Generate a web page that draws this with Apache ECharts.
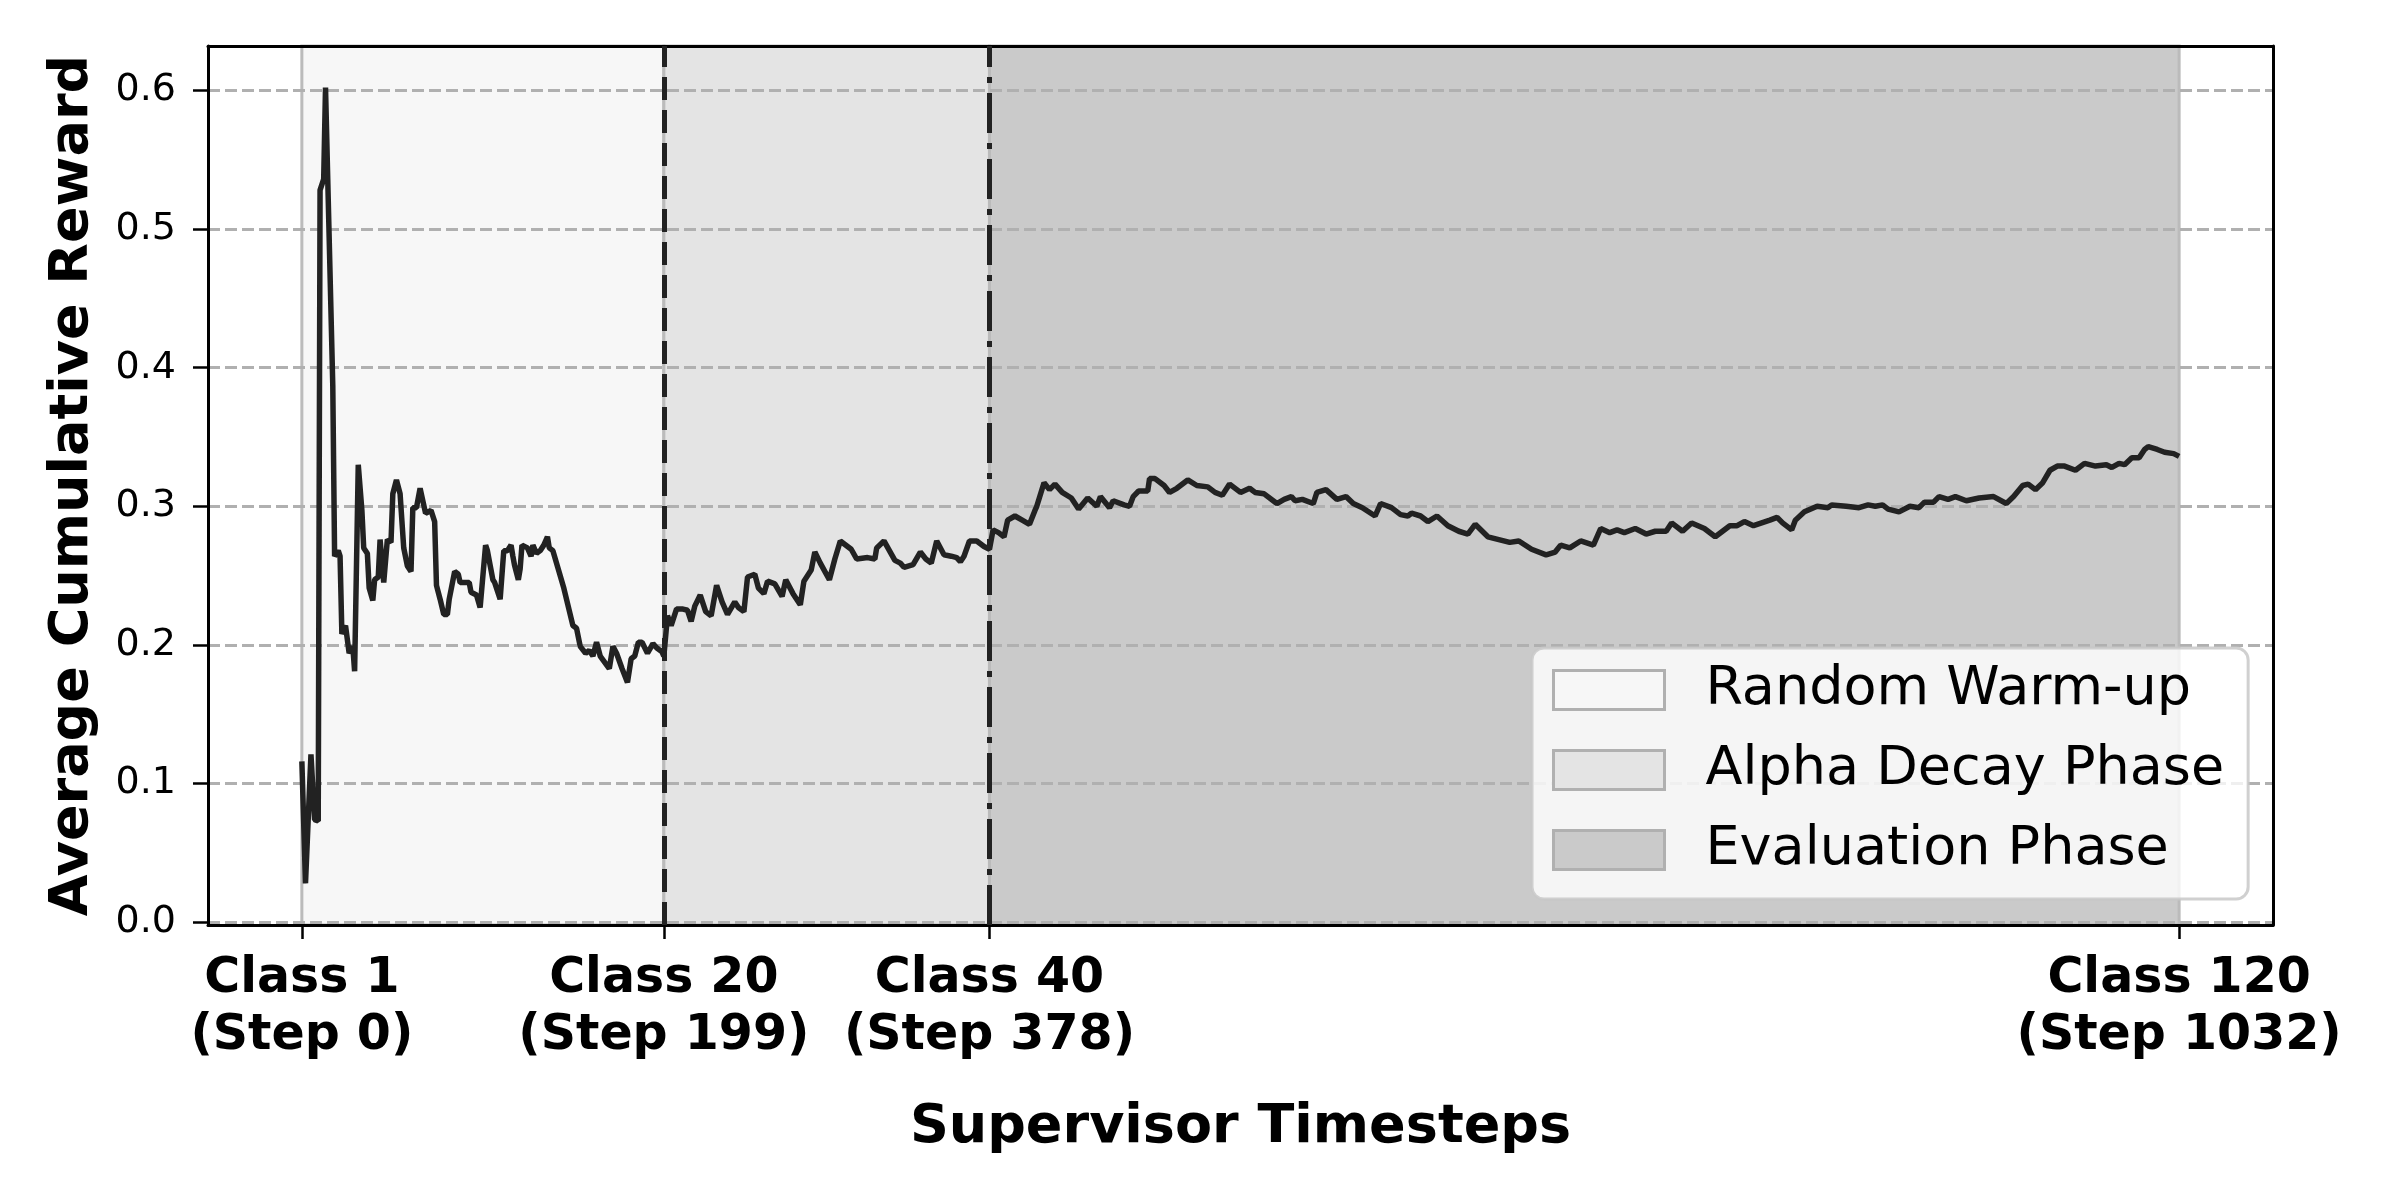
<html>
    <head>
        <meta charset="utf-8">
        <script src='https://cdn.jsdelivr.net/npm/echarts@6/dist/echarts.min.js'></script>
    </head>
    <body>
        <style>
            html, body {
                margin: 0;
                background: #fff;
            }
            #main {
                width: 2400px;
                height: 1200px;
            }
        </style>
        <div id='main'></div>
        <script>
            // step index of each reading along the curve
            var steps = [
                0, 2, 5, 7, 9, 10, 12, 13, 14, 17, 18, 20, 21, 22, 24, 26, 28, 29, 31, 33,
                34, 35, 36, 37, 39, 40, 42, 43, 44, 45, 47, 49, 50, 51, 52, 54, 56, 58, 60, 61,
                63, 65, 66, 68, 71, 73, 74, 76, 78, 80, 81, 84, 86, 87, 90, 92, 93, 96, 98, 99,
                101, 102, 105, 106, 109, 111, 113, 115, 116, 117, 119, 120, 121, 122, 124, 126, 127, 129, 131, 133,
                135, 136, 138, 139, 144, 149, 151, 153, 156, 158, 160, 162, 164, 169, 171, 173, 176, 179, 181, 183,
                185, 187, 190, 193, 195, 198, 199, 201, 203, 206, 209, 212, 214, 216, 219, 222, 225, 228, 231, 234,
                238, 240, 243, 245, 249, 251, 254, 256, 260, 264, 266, 270, 274, 276, 280, 282, 285, 290, 293, 296,
                302, 305, 311, 315, 316, 320, 326, 329, 331, 336, 340, 343, 346, 349, 353, 357, 360, 362, 364, 367,
                371, 375, 378, 380, 383, 386, 388, 392, 396, 400, 403, 404, 408, 411, 414, 418, 423, 427, 432, 437,
                439, 444, 446, 452, 455, 457, 460, 465, 466, 469, 474, 477, 481, 483, 487, 492, 498, 502, 506, 510,
                516, 521, 524, 529, 536, 540, 544, 546, 550, 556, 558, 563, 569, 574, 578, 583, 590, 593, 599, 604,
                608, 610, 615, 619, 624, 630, 636, 641, 645, 652, 658, 664, 669, 676, 684, 689, 692, 697, 703, 710,
                714, 719, 723, 727, 733, 739, 744, 750, 753, 759, 764, 771, 777, 785, 789, 793, 798, 807, 811, 814,
                819, 821, 826, 833, 839, 841, 849, 856, 861, 865, 869, 872, 878, 884, 889, 892, 897, 900, 905, 909,
                915, 922, 930, 937, 941, 946, 949, 953, 957, 961, 965, 969, 975, 980, 986, 992, 995, 999, 1002, 1006,
                1010, 1013, 1015, 1020, 1024, 1029, 1032
            ];
            // average cumulative reward read at those steps
            var reward = [
                0.116, 0.028, 0.121, 0.074, 0.073, 0.528, 0.536, 0.602, 0.601, 0.387, 0.264, 0.268, 0.264, 0.208, 0.214, 0.194, 0.199, 0.181, 0.330, 0.297,
                0.270, 0.268, 0.266, 0.241, 0.232, 0.247, 0.249, 0.276, 0.276, 0.245, 0.276, 0.274, 0.309, 0.309, 0.319, 0.309, 0.270, 0.257, 0.253, 0.299,
                0.299, 0.313, 0.314, 0.295, 0.297, 0.289, 0.243, 0.233, 0.222, 0.222, 0.233, 0.253, 0.251, 0.245, 0.245, 0.245, 0.238, 0.236, 0.227, 0.228,
                0.272, 0.268, 0.247, 0.245, 0.233, 0.268, 0.268, 0.272, 0.264, 0.257, 0.247, 0.255, 0.272, 0.272, 0.270, 0.264, 0.272, 0.266, 0.268, 0.272,
                0.278, 0.270, 0.268, 0.268, 0.241, 0.214, 0.212, 0.199, 0.194, 0.196, 0.192, 0.202, 0.192, 0.183, 0.199, 0.194, 0.183, 0.173, 0.190, 0.192,
                0.202, 0.202, 0.194, 0.201, 0.198, 0.195, 0.192, 0.221, 0.214, 0.226, 0.226, 0.225, 0.217, 0.228, 0.236, 0.224, 0.221, 0.243, 0.231, 0.222,
                0.231, 0.227, 0.224, 0.249, 0.251, 0.241, 0.237, 0.246, 0.244, 0.235, 0.247, 0.237, 0.229, 0.246, 0.254, 0.267, 0.259, 0.247, 0.262, 0.275,
                0.269, 0.262, 0.263, 0.262, 0.270, 0.275, 0.261, 0.259, 0.256, 0.258, 0.267, 0.262, 0.259, 0.275, 0.265, 0.264, 0.263, 0.260, 0.264, 0.275,
                0.275, 0.271, 0.269, 0.283, 0.281, 0.278, 0.290, 0.293, 0.290, 0.287, 0.297, 0.300, 0.317, 0.312, 0.316, 0.310, 0.306, 0.298, 0.306, 0.300,
                0.307, 0.299, 0.304, 0.301, 0.300, 0.307, 0.311, 0.311, 0.320, 0.320, 0.315, 0.310, 0.313, 0.315, 0.319, 0.315, 0.314, 0.310, 0.308, 0.316,
                0.310, 0.313, 0.310, 0.309, 0.302, 0.305, 0.307, 0.304, 0.305, 0.302, 0.310, 0.312, 0.305, 0.307, 0.302, 0.299, 0.293, 0.302, 0.299, 0.294,
                0.293, 0.295, 0.293, 0.289, 0.293, 0.286, 0.282, 0.280, 0.287, 0.278, 0.276, 0.274, 0.275, 0.269, 0.265, 0.267, 0.272, 0.270, 0.275, 0.272,
                0.284, 0.281, 0.283, 0.281, 0.284, 0.280, 0.282, 0.282, 0.288, 0.282, 0.288, 0.284, 0.278, 0.286, 0.286, 0.289, 0.286, 0.290, 0.292, 0.288,
                0.283, 0.290, 0.296, 0.300, 0.299, 0.301, 0.300, 0.299, 0.301, 0.300, 0.301, 0.298, 0.296, 0.300, 0.299, 0.303, 0.303, 0.307, 0.305, 0.307,
                0.304, 0.306, 0.307, 0.302, 0.307, 0.315, 0.316, 0.312, 0.317, 0.326, 0.329, 0.329, 0.326, 0.331, 0.329, 0.330, 0.328, 0.331, 0.330, 0.335,
                0.335, 0.341, 0.343, 0.341, 0.339, 0.338, 0.336
            ];

            var tickSteps = [0, 199, 378, 1032];
            var tickClasses = [1, 20, 40, 120];
            var yTicks = [0, 0.1, 0.2, 0.3, 0.4, 0.5, 0.6];

            var phaseNames = ['Random Warm-up', 'Alpha Decay Phase', 'Evaluation Phase'];
            var phaseStart = [0, 199, 378];
            var phaseEnd = [199, 378, 1032];
            var phaseColors = ['#f7f7f7', '#e4e4e4', '#cacaca'];

            var font = 'DejaVu Sans';
            var xMin = -51.6, xMax = 1083.6;
            var yMin = -0.002, yMax = 0.632;

            var chart = echarts.init(document.getElementById('main'), null, { renderer: 'canvas' });

            var lineData = steps.map(function (s, i) { return [s, reward[i]]; });

            var spanSeries = phaseNames.map(function (name, i) {
                return {
                    name: name,
                    type: 'line',
                    z: 0,
                    data: [],
                    silent: true,
                    markArea: {
                        z: 0,
                        silent: true,
                        itemStyle: {
                            color: phaseColors[i],
                            borderColor: '#bbbbbb',
                            borderWidth: 3
                        },
                        data: [[{ xAxis: phaseStart[i] }, { xAxis: phaseEnd[i] }]]
                    }
                };
            });

            var option = {
                animation: false,
                backgroundColor: '#fff',
                textStyle: { fontFamily: font },
                grid: { left: 208, right: 127, top: 46, bottom: 275 },
                legend: {
                    orient: 'vertical',
                    left: 1532,
                    top: 648,
                    padding: [15, 24, 22, 20],
                    itemWidth: 111,
                    itemHeight: 39,
                    itemGap: 26,
                    selectedMode: false,
                    backgroundColor: 'rgba(255,255,255,0.8)',
                    borderColor: 'rgba(200,200,200,0.85)',
                    borderWidth: 3,
                    borderRadius: 12,
                    textStyle: {
                        fontFamily: font,
                        fontSize: 54,
                        color: '#000',
                        padding: [0, 0, 0, 36]
                    },
                    data: phaseNames.map(function (n, i) {
                        return {
                            name: n,
                            icon: 'rect',
                            itemStyle: { color: phaseColors[i], borderColor: '#b0b0b0', borderWidth: 3 }
                        };
                    })
                },
                xAxis: [{
                    type: 'value',
                    min: xMin,
                    max: xMax,
                    z: 1,
                    name: 'Supervisor Timesteps',
                    nameLocation: 'middle',
                    nameGap: 176,
                    nameTextStyle: { fontFamily: font, fontSize: 54, fontWeight: 'bold', color: '#000' },
                    axisLine: { show: true, onZero: false, lineStyle: { color: '#000', width: 3 } },
                    axisTick: { show: true, length: 14, customValues: tickSteps, lineStyle: { color: '#000', width: 2.5 } },
                    axisLabel: {
                        customValues: tickSteps,
                        margin: 26,
                        fontFamily: font,
                        fontSize: 49,
                        fontWeight: 'bold',
                        lineHeight: 57,
                        color: '#000',
                        formatter: function (v) {
                            var i = tickSteps.indexOf(v);
                            return 'Class ' + tickClasses[i] + '\n(Step ' + v + ')';
                        }
                    },
                    splitLine: { show: false }
                }, {
                    type: 'value',
                    position: 'top',
                    min: xMin,
                    max: xMax,
                    z: 1,
                    axisLine: { show: true, onZero: false, lineStyle: { color: '#000', width: 3 } },
                    axisTick: { show: false },
                    axisLabel: { show: false },
                    splitLine: { show: false }
                }],
                yAxis: [{
                    type: 'value',
                    min: yMin,
                    max: yMax,
                    z: 1,
                    name: 'Average Cumulative Reward',
                    nameLocation: 'middle',
                    nameGap: 108,
                    nameTextStyle: { fontFamily: font, fontSize: 54, fontWeight: 'bold', color: '#000' },
                    axisLine: { show: true, onZero: false, lineStyle: { color: '#000', width: 3 } },
                    axisTick: { show: true, length: 15, customValues: yTicks, lineStyle: { color: '#000', width: 2.5 } },
                    axisLabel: {
                        customValues: yTicks,
                        margin: 32,
                        fontFamily: font,
                        fontSize: 38,
                        color: '#000',
                        formatter: function (v) { return v.toFixed(1); }
                    },
                    splitLine: { show: true, lineStyle: { color: '#b0b0b0', width: 3, type: [12, 5] } }
                }, {
                    type: 'value',
                    position: 'right',
                    min: yMin,
                    max: yMax,
                    z: 1,
                    axisLine: { show: true, onZero: false, lineStyle: { color: '#000', width: 3 } },
                    axisTick: { show: false },
                    axisLabel: { show: false },
                    splitLine: { show: false }
                }],
                series: spanSeries.concat([{
                    name: 'Average Cumulative Reward',
                    type: 'line',
                    z: 3,
                    data: lineData,
                    showSymbol: false,
                    symbol: 'none',
                    lineStyle: { color: '#222', width: 5.5 },
                    markLine: {
                        silent: true,
                        symbol: ['none', 'none'],
                        label: { show: false },
                        lineStyle: { color: '#222', width: 5 },
                        data: [
                            { xAxis: 199, lineStyle: { color: '#222', width: 5, type: [23, 10] } },
                            { xAxis: 378, lineStyle: { color: '#222', width: 5, type: [40, 10, 6, 10] } }
                        ]
                    }
                }])
            };

            chart.setOption(option);

            window.onresize = chart.resize;
        </script>
    </body>
</html>
